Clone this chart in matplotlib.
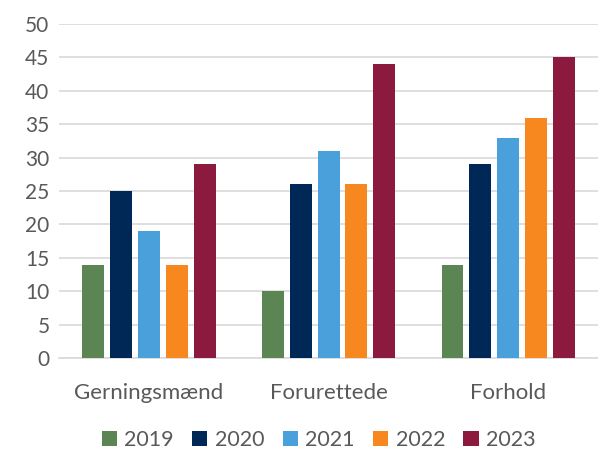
import matplotlib.pyplot as plt
import numpy as np

plt.rcParams['font.family'] = ['Lato', 'DejaVu Sans']

categories = ["Gerningsmænd", "Forurettede", "Forhold"]
years = ["2019", "2020", "2021", "2022", "2023"]
values = {
    "2019": [14, 10, 14],
    "2020": [25, 26, 29],
    "2021": [19, 31, 33],
    "2022": [14, 26, 36],
    "2023": [29, 44, 45],
}
colors = ["#5b8553", "#002856", "#4aa0da", "#f7871f", "#8c1a3e"]

fig = plt.figure(figsize=(5.98, 4.70), dpi=100)
ax = fig.add_axes([0.099, 0.238, 0.901, 0.711])

x = np.arange(len(categories))
pitch = 0.155
width = 0.122
for i, (yr, c) in enumerate(zip(years, colors)):
    ax.bar(x + (i - 2) * pitch, values[yr], width, color=c, label=yr, zorder=3)

ax.set_xlim(-0.5, 2.5)
ax.set_ylim(0, 50)
ax.set_yticks(range(0, 51, 5))
ax.set_xticks(x)
ax.set_xticklabels(categories)
ax.grid(axis='y', color='#d9d9d9', linewidth=1.2, zorder=0)
for s in ['top', 'right', 'left']:
    ax.spines[s].set_visible(False)
ax.spines['bottom'].set_color('#d9d9d9')
ax.spines['bottom'].set_linewidth(1.2)
ax.tick_params(axis='y', length=0, labelsize=15, colors='#595959', pad=7)
ax.tick_params(axis='x', length=0, labelsize=16, colors='#595959', pad=18)

leg = fig.legend(loc='center', bbox_to_anchor=(0.533, 0.064), ncol=5, frameon=False,
                 fontsize=15.5, handlelength=0.7, handleheight=0.7,
                 handletextpad=0.35, columnspacing=0.85)
for t in leg.get_texts():
    t.set_color('#595959')

fig.savefig("out.png", dpi=100)
